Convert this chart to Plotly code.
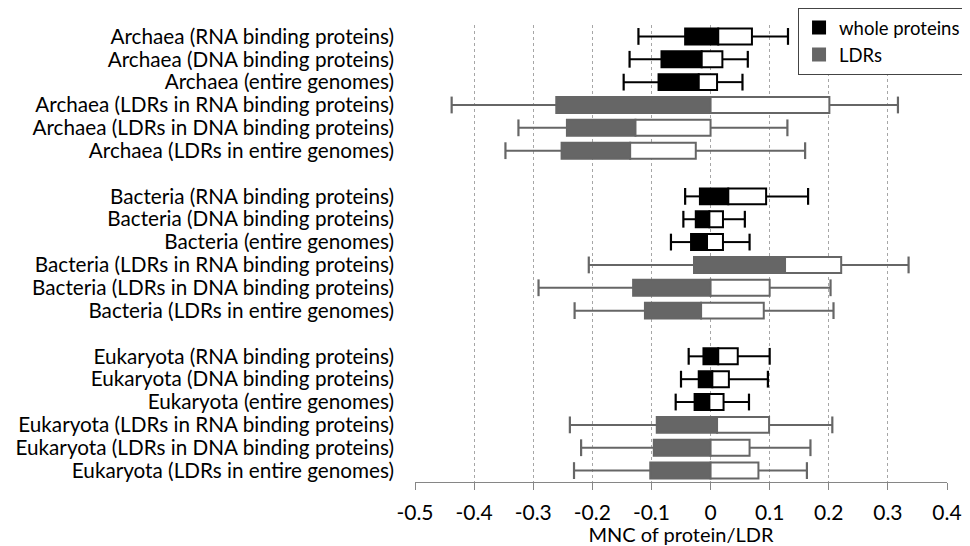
import plotly.graph_objects as go

labels = [
    "Archaea (RNA binding proteins)", "Archaea (DNA binding proteins)", "Archaea (entire genomes)",
    "Archaea (LDRs in RNA binding proteins)", "Archaea (LDRs in DNA binding proteins)", "Archaea (LDRs in entire genomes)",
    "Bacteria (RNA binding proteins)", "Bacteria (DNA binding proteins)", "Bacteria (entire genomes)",
    "Bacteria (LDRs in RNA binding proteins)", "Bacteria (LDRs in DNA binding proteins)", "Bacteria (LDRs in entire genomes)",
    "Eukaryota (RNA binding proteins)", "Eukaryota (DNA binding proteins)", "Eukaryota (entire genomes)",
    "Eukaryota (LDRs in RNA binding proteins)", "Eukaryota (LDRs in DNA binding proteins)", "Eukaryota (LDRs in entire genomes)",
]
kinds = ["whole proteins"] * 3 + ["LDRs"] * 3
kinds = kinds * 3

mins = [-0.122, -0.137, -0.147, -0.438, -0.325, -0.347,
        -0.043, -0.046, -0.067, -0.206, -0.291, -0.230,
        -0.037, -0.050, -0.059, -0.238, -0.219, -0.231]
q1s = [-0.043, -0.083, -0.088, -0.261, -0.243, -0.252,
       -0.018, -0.025, -0.033, -0.028, -0.131, -0.111,
       -0.012, -0.020, -0.027, -0.091, -0.096, -0.102]
meds = [0.013, -0.015, -0.020, 0.000, -0.127, -0.136,
        0.030, -0.002, -0.006, 0.126, 0.000, -0.016,
        0.013, 0.003, -0.002, 0.011, 0.000, 0.000]
q3s = [0.070, 0.020, 0.011, 0.201, 0.000, -0.025,
       0.094, 0.021, 0.021, 0.221, 0.100, 0.090,
       0.046, 0.031, 0.022, 0.099, 0.066, 0.081]
maxs = [0.131, 0.063, 0.054, 0.317, 0.130, 0.160,
        0.165, 0.058, 0.066, 0.335, 0.203, 0.208,
        0.100, 0.097, 0.065, 0.206, 0.169, 0.163]

x_ticks = [-0.5, -0.4, -0.3, -0.2, -0.1, 0, 0.1, 0.2, 0.3, 0.4]
x_ticktext = ["-0.5", "-0.4", "-0.3", "-0.2", "-0.1", "0", "0.1", "0.2", "0.3", "0.4"]

# row positions: 6 rows per domain with one empty row between domains
ypos = [g * 7 + r for g in range(3) for r in range(6)]

colors = {"whole proteins": "#000000", "LDRs": "#666666"}
FONT = "Lato"

fig = go.Figure()
for kind in ["whole proteins", "LDRs"]:
    idx = [i for i, k in enumerate(kinds) if k == kind]
    col = colors[kind]
    y = [ypos[i] for i in idx]
    # whiskers
    wx, wy = [], []
    for i in idx:
        wx += [mins[i], q1s[i], None, q3s[i], maxs[i], None]
        wy += [ypos[i], ypos[i], None, ypos[i], ypos[i], None]
    fig.add_trace(go.Scatter(x=wx, y=wy, mode="lines", line=dict(color=col, width=2),
                             showlegend=False, hoverinfo="skip"))
    # caps
    fig.add_trace(go.Scatter(x=[mins[i] for i in idx] + [maxs[i] for i in idx], y=y + y,
                             mode="markers",
                             marker=dict(symbol="line-ns", size=12, line=dict(color=col, width=2.2)),
                             showlegend=False, hoverinfo="skip"))
    # lower half (filled)
    fig.add_trace(go.Bar(orientation="h", y=y, base=[q1s[i] for i in idx],
                         x=[meds[i] - q1s[i] for i in idx], width=0.7,
                         marker=dict(color=col, line=dict(color=col, width=2)),
                         name=kind, showlegend=True))
    # upper half (white)
    fig.add_trace(go.Bar(orientation="h", y=y, base=[meds[i] for i in idx],
                         x=[q3s[i] - meds[i] for i in idx], width=0.7,
                         marker=dict(color="#ffffff", line=dict(color=col, width=2)),
                         showlegend=False))

# The page body adds an 8px offset; the figure is sized 962x538 so it ends at the window edge.
W, H = 962, 538
top_px, dom_top_px, bottom_px = 0, 17, 474
dom_top = (bottom_px - dom_top_px) / (bottom_px - top_px)

fig.update_layout(
    width=W, height=H,
    margin=dict(l=407, r=23, t=top_px, b=H - bottom_px, autoexpand=False),
    barmode="overlay",
    plot_bgcolor="white", paper_bgcolor="white",
    font=dict(family=FONT, color="#000000"),
    showlegend=True,
    legend=dict(x=0.72, y=1.0, xanchor="left", yanchor="top",
                bordercolor="#444444", borderwidth=1, bgcolor="white",
                font=dict(family=FONT, size=18.5), traceorder="normal",
                itemwidth=30, tracegroupgap=0),
    xaxis=dict(range=[-0.5, 0.4], tickvals=x_ticks, ticktext=x_ticktext,
               showgrid=True, gridcolor="#a6a6a6", griddash="3px,3px", gridwidth=1,
               zeroline=False, showline=True, linecolor="#868686", linewidth=1,
               ticks="outside", ticklen=7, tickcolor="#868686",
               ticklabelstandoff=5, automargin=False,
               tickfont=dict(family=FONT, size=21),
               title=dict(text="MNC of protein/LDR", font=dict(family=FONT, size=20), standoff=0)),
    yaxis=dict(range=[19.5, -0.5], tickvals=ypos, ticktext=labels, domain=[0, dom_top],
               showgrid=False, zeroline=False, showline=False, ticks="",
               ticklabelstandoff=20, automargin=False,
               tickfont=dict(family=FONT, size=20.7)),
)

fig.write_html("out.html")
